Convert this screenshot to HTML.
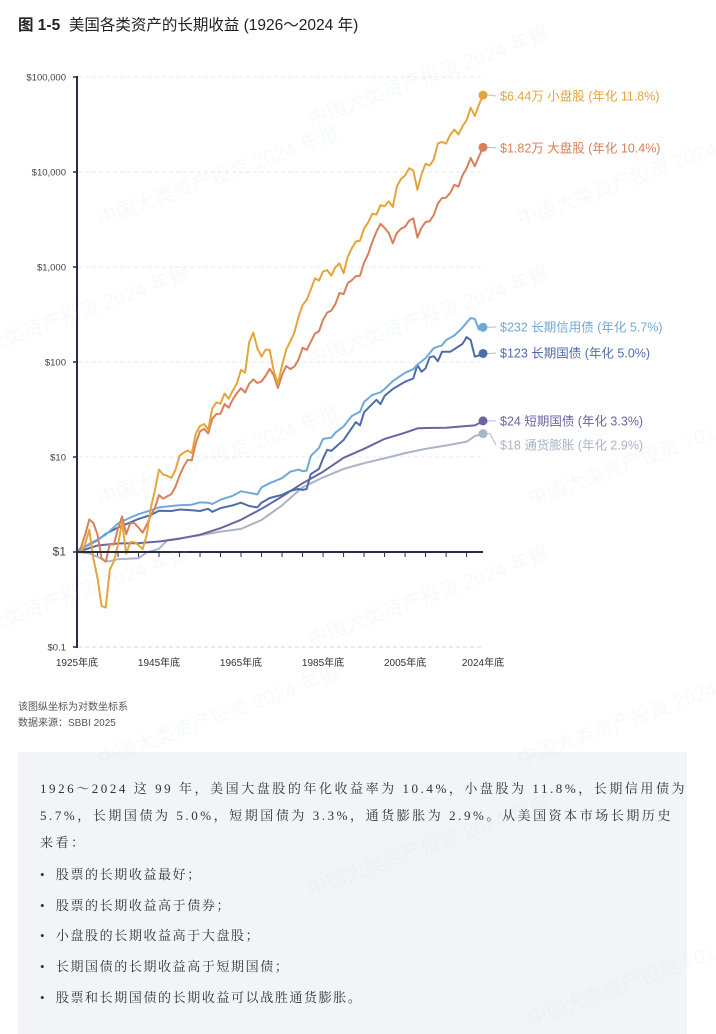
<!DOCTYPE html>
<html><head><meta charset="utf-8">
<style>
body{margin:0;width:716px;height:1034px;background:#fff;position:relative;overflow:hidden;font-family:"Liberation Sans","Noto Sans CJK SC",sans-serif;}
.t{position:absolute;}
#box{position:absolute;left:18px;top:752px;width:669px;height:282px;background:#f3f4f7;}
.p{position:absolute;left:40px;font-family:"Liberation Serif","Noto Serif CJK SC",serif;font-size:13px;color:#333;letter-spacing:2.55px;white-space:nowrap;}
.b{letter-spacing:1.6px;}
.wm{position:absolute;color:rgba(200,205,215,0.12);font-size:20px;transform:rotate(-20deg);white-space:nowrap;pointer-events:none;}
</style></head><body>
<div class="t" style="left:18px;top:13px;font-size:15.5px;color:#222;"><b>图 1-5</b>&nbsp;&nbsp;美国各类资产的长期收益 (1926～2024 年)</div>
<svg id="chart" width="716" height="690" style="position:absolute;left:0;top:0;font-family:'Liberation Sans','Noto Sans CJK SC',sans-serif;"></svg>
<div class="t" style="left:18px;top:698px;font-size:10px;color:#555;">该图纵坐标为对数坐标系</div>
<div class="t" style="left:18px;top:714px;font-size:10px;color:#555;">数据来源：SBBI 2025</div>
<div id="box"></div>
<div class="p" style="top:778px;">1926～2024 这 99 年，美国大盘股的年化收益率为 10.4%，小盘股为 11.8%，长期信用债为</div>
<div class="p" style="top:805px;">5.7%，长期国债为 5.0%，短期国债为 3.3%，通货膨胀为 2.9%。从美国资本市场长期历史</div>
<div class="p" style="top:832px;">来看：</div>
<div class="p b" style="top:864px;">•&nbsp;&nbsp;股票的长期收益最好；</div>
<div class="p b" style="top:895px;">•&nbsp;&nbsp;股票的长期收益高于债券；</div>
<div class="p b" style="top:925px;">•&nbsp;&nbsp;小盘股的长期收益高于大盘股；</div>
<div class="p b" style="top:956px;">•&nbsp;&nbsp;长期国债的长期收益高于短期国债；</div>
<div class="p b" style="top:987px;">•&nbsp;&nbsp;股票和长期国债的长期收益可以战胜通货膨胀。</div>
<div class="wm" style="left:300px;top:60px;">中国大类资产投资 2024 年报</div>
<div class="wm" style="left:90px;top:160px;">中国大类资产投资 2024 年报</div>
<div class="wm" style="left:510px;top:160px;">中国大类资产投资 2024 年报</div>
<div class="wm" style="left:-60px;top:300px;">中国大类资产投资 2024 年报</div>
<div class="wm" style="left:300px;top:300px;">中国大类资产投资 2024 年报</div>
<div class="wm" style="left:90px;top:440px;">中国大类资产投资 2024 年报</div>
<div class="wm" style="left:520px;top:440px;">中国大类资产投资 2024 年报</div>
<div class="wm" style="left:-60px;top:580px;">中国大类资产投资 2024 年报</div>
<div class="wm" style="left:300px;top:580px;">中国大类资产投资 2024 年报</div>
<div class="wm" style="left:90px;top:700px;">中国大类资产投资 2024 年报</div>
<div class="wm" style="left:510px;top:700px;">中国大类资产投资 2024 年报</div>
<div class="wm" style="left:300px;top:830px;">中国大类资产投资 2024 年报</div>
<div class="wm" style="left:520px;top:960px;">中国大类资产投资 2024 年报</div>
<script>
const yTicks=[100000,10000,1000,100,10,1,0.1];
const yTickLabels=["$100,000","$10,000","$1,000","$100","$10","$1","$0.1"];
const xTickYears=[1925,1945,1965,1985,2005,2024];
const xTickLabels=["1925年底","1945年底","1965年底","1985年底","2005年底","2024年底"];
const stockYears=[];for(let y=1925;y<=2024;y++)stockYears.push(y);
const smallCap=[1,1.00,1.22,1.72,0.85,0.53,0.27,0.26,0.65,0.80,1.20,2.05,0.96,1.27,1.27,1.18,1.07,1.51,2.91,4.45,7.37,6.55,6.35,6.01,7.30,10.3,11.1,11.7,11.0,17.7,21.2,22.2,19.4,32.5,37.6,36.4,46.6,41.0,50.0,59.5,82.6,77.1,161,204,139,114,135,134,80,59,92,135,165,205,297,397,451,577,759,719,899,927,812,998,1091,859,1279,1577,1856,1890,2536,2957,3639,3549,4476,4367,4898,4293,7046,8456,9208,10937,10359,6490,9510,12200,11700,13600,20000,20700,19900,24600,28000,24800,30100,35300,47500,38800,51000,64400];
const largeCap=[1,1.12,1.53,2.20,2.02,1.52,0.86,0.79,1.21,1.20,1.77,2.37,1.54,2.02,2.01,1.81,1.60,1.93,2.43,2.91,3.97,3.65,3.85,4.07,4.84,6.36,7.88,9.33,9.24,14.1,18.6,19.8,17.7,25.3,28.3,28.5,36.1,33.0,40.4,47.1,53.0,47.7,59.1,65.6,60.1,62.5,71.4,84.9,72.5,53.3,73.1,90.6,84.1,89.6,106,141,134,163,199,211,279,331,348,406,534,517,675,727,800,810,1114,1370,1828,2350,2845,2587,2279,1775,2285,2533,2658,3077,3246,2045,2586,2976,3039,3525,4667,5306,5380,6024,7339,7017,9227,10925,14062,11516,14542,18180];
const corpYears=[1925,1926,1928,1930,1932,1935,1938,1940,1943,1945,1948,1950,1953,1955,1957,1958,1960,1963,1965,1967,1969,1970,1972,1975,1977,1979,1980,1981,1982,1984,1985,1987,1988,1990,1992,1994,1995,1997,1999,2000,2002,2005,2007,2008,2010,2012,2014,2015,2017,2019,2020,2021,2022,2023,2024];
const corpBond=[1,1.07,1.22,1.35,1.52,2.00,2.30,2.50,2.75,2.95,3.05,3.10,3.15,3.33,3.30,3.20,3.55,3.90,4.35,4.20,4.04,4.79,5.30,6.00,7.00,7.37,7.09,7.19,10.27,12.5,15.5,16.0,18.0,21.0,27.0,30.0,38.0,45.0,48.0,52.0,63.0,77.0,84.0,94.0,110.0,140.0,150.0,170.0,190.0,230.0,260.0,290.0,285.0,220.0,240.0,232.0];
const govYears=[1925,1926,1928,1930,1932,1935,1938,1940,1943,1945,1948,1950,1953,1955,1957,1958,1960,1963,1965,1967,1969,1970,1972,1975,1977,1979,1980,1981,1982,1984,1985,1986,1987,1990,1993,1994,1995,1998,1999,2000,2002,2005,2007,2008,2009,2010,2011,2012,2013,2014,2016,2019,2020,2021,2022,2023,2024];
const govBond=[1,1.08,1.20,1.33,1.55,1.81,2.05,2.23,2.45,2.72,2.70,2.80,2.75,2.70,2.85,2.65,2.90,3.10,3.30,3.05,2.95,3.30,3.70,4.00,4.40,4.60,4.50,4.60,6.60,7.50,9.70,11.9,11.6,15.1,23.3,21.5,29.6,40,36,44,52,62,67,93,79,86,112,115,102,128,128,155,183,170,114,117,123];
const billYears=[1925,1930,1935,1940,1945,1950,1955,1960,1965,1970,1975,1980,1985,1990,1995,2000,2005,2008,2010,2015,2020,2022,2023,2024];
const tBill=[1,1.17,1.23,1.24,1.29,1.38,1.52,1.78,2.18,2.85,3.84,5.3,7.0,9.8,12.2,15.5,18.0,20.0,20.2,20.3,21.2,21.5,22.6,24];
const inflYears=[1925,1926,1928,1930,1932,1933,1935,1940,1942,1945,1947,1950,1955,1960,1965,1970,1975,1980,1985,1990,1995,2000,2005,2010,2015,2020,2021,2022,2023,2024];
const inflation=[1,0.99,0.97,0.89,0.80,0.80,0.84,0.86,0.99,1.08,1.33,1.39,1.50,1.64,1.75,2.17,3.1,4.8,6.1,7.5,8.6,9.7,11.0,12.2,13.2,14.5,15.5,16.6,17.1,17.6];
const seriesLabels=["$6.44万 小盘股 (年化 11.8%)","$1.82万 大盘股 (年化 10.4%)","$232 长期信用债 (年化 5.7%)","$123 长期国债 (年化 5.0%)","$24 短期国债 (年化 3.3%)","$18 通货膨胀 (年化 2.9%)"];

const svg=document.getElementById('chart');const NS='http://www.w3.org/2000/svg';
const X=y=>77+(y-1925)*(406/99);
const Y=v=>552-Math.log10(v)*95;
function mk(t,a){const e=document.createElementNS(NS,t);for(const k in a)e.setAttribute(k,a[k]);svg.appendChild(e);return e;}
yTicks.forEach((v,i)=>{
  if(v!==1){const g=mk('line',{x1:78,x2:483,y1:Y(v),y2:Y(v),stroke:v===0.1?'#e2e4ea':'#e8eaef','stroke-dasharray':'4,3','stroke-width':v===0.1?1.5:1});
  }
  const t=mk('text',{x:66,y:Y(v)+3.5,'text-anchor':'end','font-size':v===1?12:9.5,fill:'#444'});t.textContent=yTickLabels[i];
  
  const tk=mk('line',{x1:73,x2:77,y1:Y(v),y2:Y(v),stroke:'#2b2b45','stroke-width':1.5});
  
});
for(let y=1930;y<=2024;y+=5){const tk=mk('line',{x1:X(y),x2:X(y),y1:552,y2:557,stroke:'#2b2b45','stroke-width':1});
  }
xTickYears.forEach((y,i)=>{const t=mk('text',{x:X(y),y:666,'text-anchor':'middle','font-size':10,fill:'#333'});t.textContent=xTickLabels[i];
  });
const series=[[stockYears,smallCap,'#e3a53c'],[stockYears,largeCap,'#d9805a'],[corpYears,corpBond,'#70a9d8'],[govYears,govBond,'#4f6caa'],[billYears,tBill,'#6b64a3'],[inflYears,inflation,'#aab4c7']];
const names=['small-cap-line','large-cap-line','corporate-bond-line','government-bond-line','t-bill-line','inflation-line'];
const labelY=[96,148,327,353,421,445];
[5,4,3,2,1,0].forEach(i=>{const [ys,vs,c]=series[i];
  const p=mk('polyline',{points:ys.map((y,j)=>X(y).toFixed(1)+','+Y(vs[j]).toFixed(1)).join(' '),fill:'none',stroke:c,'stroke-width':2,'stroke-linejoin':'round'});
  });
const ax=mk('line',{x1:77,x2:77,y1:76,y2:648,stroke:'#2b2b45','stroke-width':2});
const bx=mk('line',{x1:77,x2:483,y1:552,y2:552,stroke:'#2b2b45','stroke-width':2});
series.forEach(([ys,vs,c],i)=>{const yv=Y(vs[vs.length-1]);
  const l=mk('polyline',{points:`483,${yv} 490,${yv} 496,${labelY[i]}`,fill:'none',stroke:'#bbb','stroke-width':1});
  
  const d=mk('circle',{cx:483,cy:yv,r:4.5,fill:c});
  const t=mk('text',{x:500,y:labelY[i]+4.5,'font-size':12.5,fill:c});t.textContent=seriesLabels[i];
  });
</script>
</body></html>
